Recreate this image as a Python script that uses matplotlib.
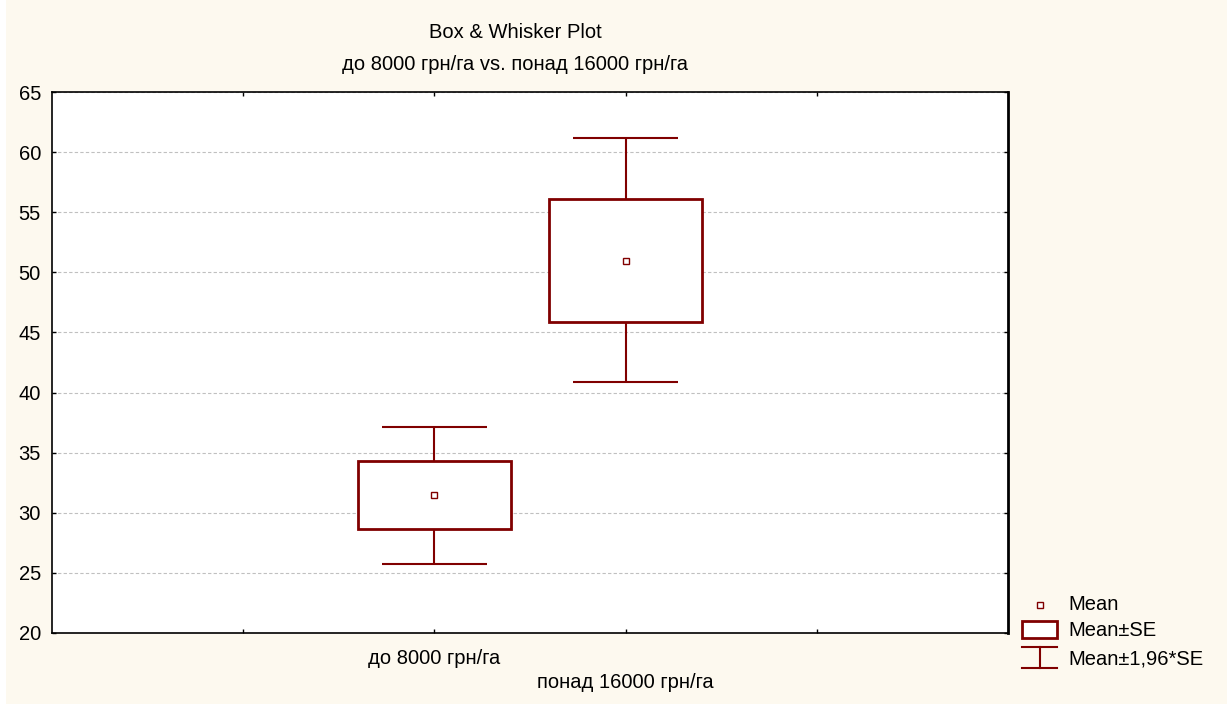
import matplotlib.pyplot as plt
from matplotlib.patches import Rectangle
from matplotlib.lines import Line2D

plt.rcParams['font.family'] = ['Liberation Sans', 'DejaVu Sans']

groups = ['до 8000 грн/га', 'понад 16000 грн/га']
positions = [2, 3]
means = [31.5, 50.95]
se_low = [28.65, 45.87]
se_high = [34.31, 56.1]
ci_low = [25.74, 40.88]
ci_high = [37.14, 61.18]

red = '#800000'
bg = '#fdf9ef'
fs = 14.5

W, H = 1227, 704
def fx(px):
    return px / W
def fy(py):
    return 1 - py / H

fig = plt.figure(figsize=(12.27, 7.04), dpi=100, facecolor=bg)
fig.add_artist(Rectangle((0, 0), fx(6), 1, facecolor='white', edgecolor='none'))

ax = fig.add_axes([fx(52), fy(633), fx(956), 541 / H])
ax.set_facecolor('white')

box_w = 0.8
cap_w = 0.55
for x, m, lo, hi, wlo, whi in zip(positions, means, se_low, se_high, ci_low, ci_high):
    ax.vlines(x, hi, whi, color=red, lw=1.5, zorder=3)
    ax.vlines(x, wlo, lo, color=red, lw=1.5, zorder=3)
    ax.hlines([wlo, whi], x - cap_w / 2, x + cap_w / 2, color=red, lw=1.5, zorder=3)
    ax.add_patch(Rectangle((x - box_w / 2, lo), box_w, hi - lo, fill=True,
                           facecolor='white', edgecolor=red, lw=2, zorder=4))
    ax.plot(x, m, 's', ms=5, mfc='white', mec=red, mew=1, zorder=5)

ax.set_xlim(0, 5)
ax.set_ylim(20, 65)
ax.set_yticks(range(20, 70, 5))
ax.set_xticks([1, 2, 3, 4])
ax.set_xticklabels([])
ax.grid(axis='y', color='#c0c0c0', ls=(0, (3, 2)), lw=0.8)
ax.tick_params(direction='in', length=3, width=1, top=True, right=True,
               labelsize=fs, colors='black', pad=8)
for s in ax.spines.values():
    s.set_linewidth(1.2)
ax.spines['right'].set_linewidth(2)

# staggered category labels
for x, g, dy in zip(positions, groups, [26, 50]):
    ax.annotate(g, xy=(x, 20), xycoords='data', xytext=(0, -dy * 0.72),
                textcoords='offset points', ha='center', va='center', fontsize=fs)

fig.text(fx(515), fy(32), 'Box & Whisker Plot', ha='center', va='center', fontsize=fs)
fig.text(fx(515), fy(65), 'до 8000 грн/га vs. понад 16000 грн/га',
         ha='center', va='center', fontsize=fs)

# legend
fig.add_artist(Line2D([fx(1040)], [fy(605)], marker='s', ms=5, mfc='white', mec=red, mew=1))
fig.text(fx(1068), fy(605), 'Mean', va='center', fontsize=fs)
fig.add_artist(Rectangle((fx(1022), fy(638)), fx(35), 17 / H, facecolor='white',
                         edgecolor=red, lw=2))
fig.add_artist(Line2D([fx(1022), fx(1057)], [fy(647), fy(647)], color=red, lw=1.5))
fig.add_artist(Line2D([fx(1022), fx(1057)], [fy(668), fy(668)], color=red, lw=1.5))
fig.add_artist(Line2D([fx(1039.5), fx(1039.5)], [fy(647), fy(668)], color=red, lw=1.5))
fig.text(fx(1068), fy(630), 'Mean±SE', va='center', fontsize=fs)
fig.text(fx(1068), fy(659), 'Mean±1,96*SE', va='center', fontsize=fs)

fig.savefig('out.png', dpi=100, facecolor=bg)
